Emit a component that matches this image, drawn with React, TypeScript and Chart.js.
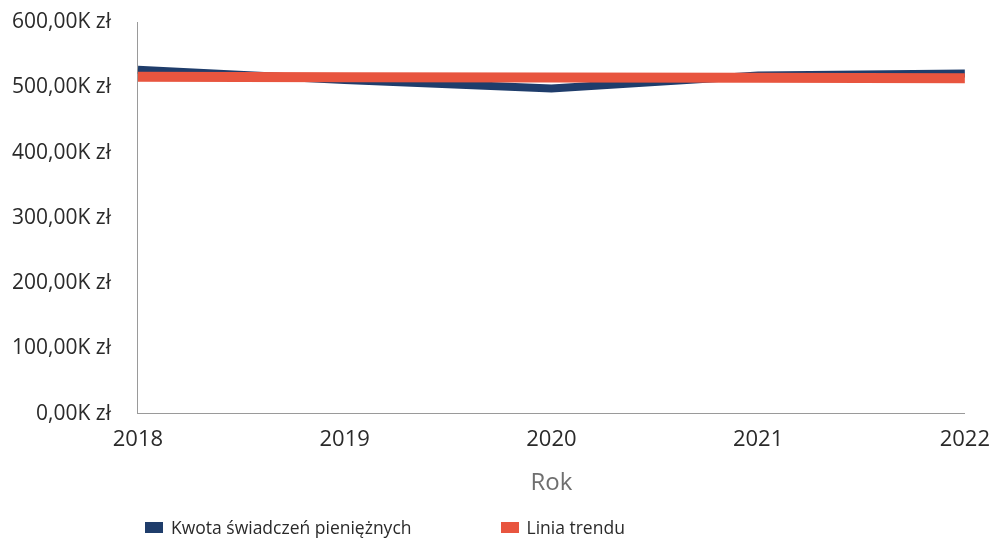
import React, { useEffect, useRef } from "react";
import { Chart, registerables } from "chart.js";

Chart.register(...registerables);

const years = ["2018", "2019", "2020", "2021", "2022"];
const kwota = [527000, 511000, 498000, 518000, 521000];
const trend = [516000, 515500, 515000, 514500, 514000];
const seriesNames = ["Kwota świadczeń pieniężnych", "Linia trendu"];
const seriesColors = ["#1f3d6b", "#e8553f"];
const yTicks = [0, 100000, 200000, 300000, 400000, 500000, 600000];

const fontFamily = "'Open Sans', 'Noto Sans', sans-serif";

function formatZl(v: number): string {
  return (v / 1000).toFixed(2).replace(".", ",") + "K zł";
}

export default function App() {
  const canvasRef = useRef<HTMLCanvasElement | null>(null);

  useEffect(() => {
    document.body.style.margin = "0";
    const ctx = canvasRef.current;
    if (!ctx) return;
    const chart = new Chart(ctx, {
      type: "line",
      data: {
        labels: years,
        datasets: [
          {
            label: seriesNames[0],
            data: kwota,
            borderColor: seriesColors[0],
            backgroundColor: seriesColors[0],
            borderWidth: 8,
            pointRadius: 0,
            tension: 0,
            order: 2,
          },
          {
            label: seriesNames[1],
            data: trend,
            borderColor: seriesColors[1],
            backgroundColor: seriesColors[1],
            borderWidth: 10,
            pointRadius: 0,
            tension: 0,
            order: 1,
          },
        ],
      },
      options: {
        animation: false,
        responsive: false,
        maintainAspectRatio: false,
        layout: { padding: { left: 12, right: 0, top: 22, bottom: 46 } },
        plugins: {
          legend: { display: false },
          tooltip: { enabled: false },
        },
        scales: {
          x: {
            type: "category",
            offset: false,
            grid: {
              display: true,
              drawOnChartArea: false,
              drawTicks: true,
              tickLength: 13,
              tickColor: "rgba(0,0,0,0)",
            },
            border: { display: true, color: "#9a9a9a", width: 1 },
            ticks: {
              color: "#2a2a2a",
              font: { family: fontFamily, size: 22 },
              padding: 0,
              maxRotation: 0,
            },
            title: {
              display: true,
              text: "Rok",
              color: "#6f6f6f",
              font: { family: fontFamily, size: 24 },
              padding: { top: 16, bottom: 0 },
            },
          },
          y: {
            min: 0,
            max: 600000,
            grid: {
              display: true,
              drawOnChartArea: false,
              drawTicks: true,
              tickLength: 27,
              tickColor: "rgba(0,0,0,0)",
            },
            border: { display: true, color: "#9a9a9a", width: 1 },
            afterBuildTicks: (axis: any) => {
              axis.ticks = yTicks.map((v) => ({ value: v }));
            },
            ticks: {
              color: "#2a2a2a",
              font: { family: fontFamily, size: 21 },
              padding: 0,
              callback: (v: any) => formatZl(Number(v)),
            },
          },
        },
      },
    });
    return () => chart.destroy();
  }, []);

  return (
    <div style={{ position: "relative", width: 990, height: 544, background: "#ffffff" }}>
      <canvas ref={canvasRef} width={990} height={544} style={{ display: "block" }} />
      <div
        style={{
          position: "absolute",
          left: 145,
          top: 515,
          display: "flex",
          alignItems: "center",
          fontFamily,
          fontSize: 17.5,
          color: "#2a2a2a",
        }}
      >
        {seriesNames.map((name, i) => (
          <div key={name} style={{ display: "flex", alignItems: "center", marginRight: 89 }}>
            <span
              style={{
                display: "inline-block",
                width: 18,
                height: 11,
                background: seriesColors[i],
                marginRight: 8,
              }}
            />
            <span>{name}</span>
          </div>
        ))}
      </div>
    </div>
  );
}
